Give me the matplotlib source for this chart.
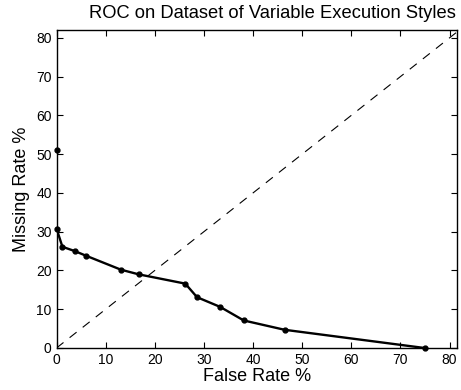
import numpy as np
import matplotlib
matplotlib.use("Agg")
import matplotlib.pyplot as plt

plt.rcParams['font.family'] = ['Liberation Sans', 'DejaVu Sans']

# ROC points (false rate %, missing rate %)
false_rate = [0, 0, 0, 1.2, 3.7, 6.0, 13.1, 16.7, 26.2, 28.6, 33.3, 38.1, 46.4, 74.9]
missing_rate = [100, 51.1, 30.8, 26.1, 25.0, 23.8, 20.2, 19.0, 16.6, 13.1, 10.6, 7.1, 4.7, 0]
diag = [0, 100]
xticks = np.arange(0, 81, 10)
yticks = np.arange(0, 81, 10)

fig = plt.figure(figsize=(4.61, 3.9), dpi=100)
ax = fig.add_axes([0.1226, 0.1077, 0.8687, 0.8153])

ax.plot(diag, diag, color='black', lw=0.8, linestyle=(0, (8, 7)))
ax.plot(false_rate, missing_rate, color='black', lw=1.7)
# markers drawn unclipped so the ones on the axes show in full
ax.plot(false_rate[1:], missing_rate[1:], 'o', color='black', ms=3.5, clip_on=False)

ax.set_xlim(0, 81.5)
ax.set_ylim(0, 82)
ax.set_xticks(xticks)
ax.set_yticks(yticks)
ax.tick_params(direction='in', top=True, right=True, labelsize=10, length=4, width=0.8)
for s in ax.spines.values():
    s.set_linewidth(1.0)

ax.set_xlabel("False Rate %", fontsize=13, labelpad=1)
ax.set_ylabel("Missing Rate %", fontsize=13, labelpad=4)
fig.text(0.59, 0.965, "ROC on Dataset of Variable Execution Styles", fontsize=13.2,
         ha='center', va='center')

fig.savefig("out.png", dpi=100)
